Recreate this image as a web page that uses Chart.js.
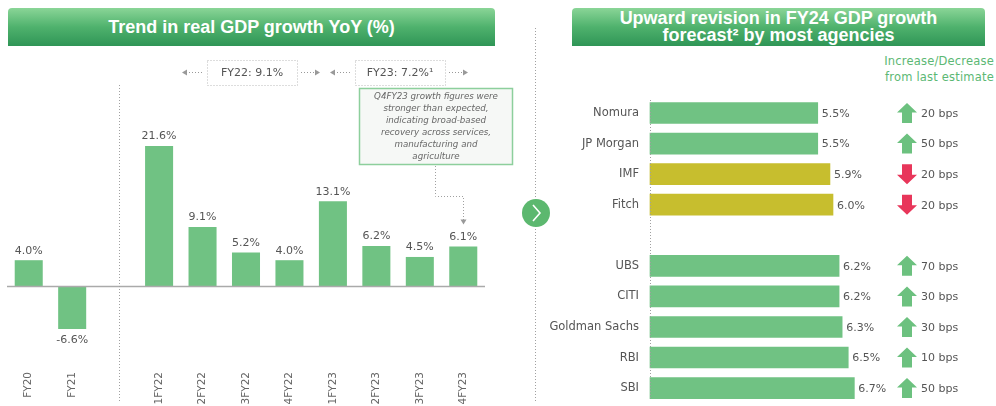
<!DOCTYPE html>
<html><head><meta charset="utf-8">
<script src="https://cdn.jsdelivr.net/npm/chart.js@4.4.0/dist/chart.umd.min.js"></script>
<style>
html,body{margin:0;padding:0;background:#fff;width:996px;height:406px;overflow:hidden;font-family:"DejaVu Sans",sans-serif}
.banner{position:absolute;color:#fff;text-align:center;background:linear-gradient(#8ad597,#4fb26d 50%,#2f9556);border-radius:4px 4px 0 0;font-family:"Liberation Sans",Arial,sans-serif;font-weight:bold}
#b1{left:8px;top:8px;width:487px;height:38px;font-size:18px;line-height:38px}
#b2{left:572px;top:8px;width:413px;height:38px;font-size:18px;line-height:17px;padding-top:2px;box-sizing:border-box}
#note{position:absolute;left:850px;top:53px;width:144px;text-align:right;color:#5cb874;font-size:11.5px;line-height:16px;letter-spacing:0.2px}
canvas{position:absolute;top:0}
#c1{left:0}
#c2{left:520px}
</style></head>
<body>
<div class="banner" id="b1">Trend in real GDP growth YoY (%)</div>
<div class="banner" id="b2">Upward revision in FY24 GDP growth<br>forecast² by most agencies</div>
<div id="note">Increase/Decrease<br>from last estimate</div>
<canvas id="c1" width="520" height="406"></canvas>
<canvas id="c2" width="476" height="406"></canvas>
<script>
// ---- data ----
const gdpCategories = ['FY20','FY21','','1FY22','2FY22','3FY22','4FY22','1FY23','2FY23','3FY23','4FY23'];
const gdpGrowth = [4.0,-6.6,null,21.6,9.1,5.2,4.0,13.1,6.2,4.5,6.1];
const annualLabels = ['FY22: 9.1%','FY23: 7.2%¹'];
const calloutLines = ['Q4FY23 growth figures were','stronger than expected,','indicating broad-based','recovery across services,','manufacturing and','agriculture'];

const agencies = ['Nomura','JP Morgan','IMF','Fitch','','UBS','CITI','Goldman Sachs','RBI','SBI'];
const fy24Forecast = [5.5,5.5,5.9,6.0,null,6.2,6.2,6.3,6.5,6.7];
const revisionBps = [20,50,-20,-20,null,70,30,30,10,50];

const GREEN = '#70c283', YELLOW = '#c7be2e', RED = '#e8365a', GRAY = '#555';
const FONT = '"DejaVu Sans", sans-serif';

function dotted(ctx){ ctx.setLineDash([1,2]); ctx.strokeStyle = '#a0a0a0'; ctx.lineWidth = 1; }
function arrowHead(ctx, x, y, dir){
  ctx.save(); ctx.setLineDash([]); ctx.fillStyle = '#999'; ctx.beginPath();
  if (dir === 'l'){ ctx.moveTo(x, y); ctx.lineTo(x+5, y-3); ctx.lineTo(x+5, y+3); }
  else if (dir === 'r'){ ctx.moveTo(x, y); ctx.lineTo(x-5, y-3); ctx.lineTo(x-5, y+3); }
  else { ctx.moveTo(x, y); ctx.lineTo(x-3, y-5); ctx.lineTo(x+3, y-5); }
  ctx.closePath(); ctx.fill(); ctx.restore();
}

const leftDeco = {
  id: 'leftDeco',
  afterDatasetsDraw(chart){
    const {ctx, chartArea: a, scales: {x, y}} = chart;
    ctx.save();
    const y0 = Math.round(y.getPixelForValue(0)) + 0.5;
    ctx.strokeStyle = '#aaa'; ctx.lineWidth = 1.5;
    ctx.beginPath(); ctx.moveTo(a.left, y0); ctx.lineTo(a.right, y0); ctx.stroke();
    const sx = Math.round(x.getPixelForValue(2)) + 3.5;
    dotted(ctx);
    ctx.beginPath(); ctx.moveTo(sx, 85); ctx.lineTo(sx, 402); ctx.stroke();
    ctx.setLineDash([]);
    ctx.font = '11px ' + FONT; ctx.fillStyle = GRAY; ctx.textAlign = 'center';
    const meta = chart.getDatasetMeta(0);
    gdpGrowth.forEach((v, i) => {
      if (v === null) return;
      const el = meta.data[i];
      const t = v.toFixed(1) + '%';
      if (v >= 0){ ctx.textBaseline = 'bottom'; ctx.fillText(t, el.x, el.y - 4); }
      else { ctx.textBaseline = 'top'; ctx.fillText(t, el.x, el.y + 6); }
    });
    const boxes = [[207, 297], [355, 445]];
    boxes.forEach((b, k) => {
      dotted(ctx); ctx.strokeStyle = '#bbb';
      ctx.strokeRect(b[0] + 0.5, 60.5, b[1] - b[0], 25);
      ctx.strokeStyle = '#999';
      ctx.beginPath(); ctx.moveTo(b[0] - 24, 72.5); ctx.lineTo(b[0] - 4, 72.5);
      ctx.moveTo(b[1] + 4, 72.5); ctx.lineTo(b[1] + 22, 72.5); ctx.stroke();
      arrowHead(ctx, b[0] - 25, 72.5, 'l');
      arrowHead(ctx, b[1] + 23, 72.5, 'r');
      ctx.setLineDash([]);
      ctx.fillStyle = GRAY; ctx.font = '11px ' + FONT; ctx.textAlign = 'center'; ctx.textBaseline = 'middle';
      ctx.fillText(annualLabels[k], (b[0] + b[1]) / 2, 73);
    });
    ctx.fillStyle = '#f6f8f6'; ctx.fillRect(359, 88, 154, 77);
    ctx.strokeStyle = '#8dcf9c'; ctx.lineWidth = 1.5; ctx.strokeRect(359.5, 88.5, 153, 76);
    ctx.fillStyle = '#666'; ctx.font = 'italic 8.7px ' + FONT; ctx.textAlign = 'center'; ctx.textBaseline = 'middle';
    calloutLines.forEach((l, i) => ctx.fillText(l, 436, 97 + i * 12));
    const last = meta.data[gdpGrowth.length - 1];
    dotted(ctx);
    ctx.beginPath(); ctx.moveTo(435.5, 166); ctx.lineTo(435.5, 196.5); ctx.lineTo(Math.round(last.x) + 0.5, 196.5);
    ctx.lineTo(Math.round(last.x) + 0.5, last.y - 26); ctx.stroke();
    arrowHead(ctx, Math.round(last.x) + 0.5, last.y - 22, 'd');
    ctx.restore();
  }
};

new Chart(document.getElementById('c1'), {
  type: 'bar',
  data: { labels: gdpCategories, datasets: [{ data: gdpGrowth, backgroundColor: GREEN, barPercentage: 0.645, categoryPercentage: 1 }] },
  options: {
    responsive: false, animation: false,
    layout: { padding: { left: 7, right: 35, top: 124, bottom: 0 } },
    plugins: { legend: { display: false }, tooltip: { enabled: false } },
    scales: {
      x: { grid: { display: false, drawTicks: false }, border: { display: false },
           ticks: { autoSkip: false, minRotation: 90, maxRotation: 90, padding: 21, color: '#666', font: { family: FONT, size: 10.5 } },
           afterFit: s => { s.height = 55; } },
      y: { display: false, min: -10, max: 25 }
    }
  },
  plugins: [leftDeco]
});

function bigArrow(ctx, cx, cy, up, color){
  const s = up ? -1 : 1;
  ctx.fillStyle = color; ctx.beginPath();
  ctx.moveTo(cx, cy + s * 10);
  ctx.lineTo(cx - 10, cy + s * 0.5);
  ctx.lineTo(cx - 5, cy + s * 0.5);
  ctx.lineTo(cx - 5, cy - s * 10);
  ctx.lineTo(cx + 5, cy - s * 10);
  ctx.lineTo(cx + 5, cy + s * 0.5);
  ctx.lineTo(cx + 10, cy + s * 0.5);
  ctx.closePath(); ctx.fill();
}

const rightDeco = {
  id: 'rightDeco',
  afterDatasetsDraw(chart){
    const {ctx, scales: {x, y}} = chart;
    ctx.save();
    dotted(ctx);
    ctx.beginPath(); ctx.moveTo(15.5, 28); ctx.lineTo(15.5, 402); ctx.stroke();
    const ax = Math.round(x.getPixelForValue(0)) + 0.5;
    ctx.beginPath(); ctx.moveTo(ax, 100); ctx.lineTo(ax, 400); ctx.stroke();
    ctx.setLineDash([]);
    ctx.fillStyle = '#5cb86f'; ctx.beginPath(); ctx.arc(16, 213, 14, 0, Math.PI * 2); ctx.fill();
    ctx.strokeStyle = '#fff'; ctx.lineWidth = 1.6; ctx.beginPath();
    ctx.moveTo(13, 205); ctx.lineTo(20, 213); ctx.lineTo(13, 221); ctx.stroke();
    const meta = chart.getDatasetMeta(0);
    ctx.font = '11px ' + FONT; ctx.fillStyle = GRAY; ctx.textAlign = 'left'; ctx.textBaseline = 'middle';
    fy24Forecast.forEach((v, i) => {
      if (v === null) return;
      const el = meta.data[i];
      ctx.fillStyle = GRAY;
      ctx.fillText(v.toFixed(1) + '%', el.x + 4, el.y + 1);
      const bps = revisionBps[i];
      bigArrow(ctx, 387, el.y, bps > 0, bps > 0 ? '#6cc17f' : RED);
      ctx.fillStyle = GRAY;
      ctx.fillText(Math.abs(bps) + ' bps', 401, el.y + 1);
    });
    ctx.restore();
  }
};

new Chart(document.getElementById('c2'), {
  type: 'bar',
  data: { labels: agencies, datasets: [{ data: fy24Forecast, clip: false, barThickness: 21,
    backgroundColor: revisionBps.map(b => b !== null && b < 0 ? YELLOW : GREEN) }] },
  options: {
    indexAxis: 'y', responsive: false, animation: false,
    layout: { padding: { left: 0, right: 102, top: 113, bottom: 11 } },
    plugins: { legend: { display: false }, tooltip: { enabled: false } },
    scales: {
      x: { display: false, min: 0, max: 8 },
      y: { offset: false, grid: { display: false, drawTicks: false }, border: { display: false },
           ticks: { padding: 11, color: GRAY, font: { family: FONT, size: 11.5 } },
           afterFit: s => { s.width = 130; } }
    }
  },
  plugins: [rightDeco]
});
</script>
</body></html>
